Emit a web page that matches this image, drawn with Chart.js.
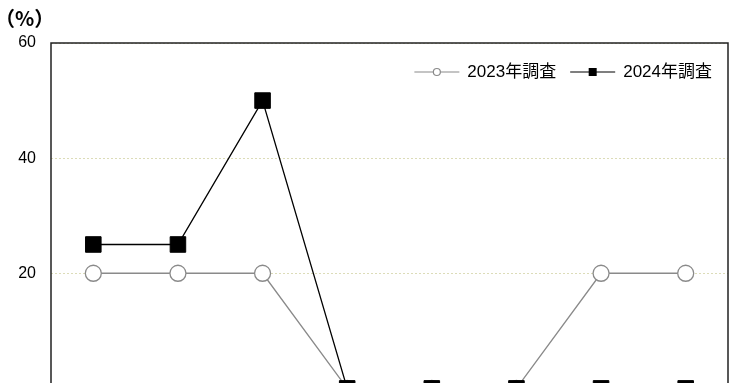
<!DOCTYPE html>
<html lang="ja">
<head>
<meta charset="utf-8">
<script src="https://cdn.jsdelivr.net/npm/chart.js@4.4.1/dist/chart.umd.min.js"></script>
<style>
  html, body { margin: 0; padding: 0; background: #fff; overflow: hidden; width: 731px; height: 383px; }
  #wrap { width: 731px; height: 413px; }
</style>
</head>
<body>
<div id="wrap"><canvas id="grafico" width="731" height="413"></canvas></div>
<script>
// -------------------- DADOS --------------------
const categorias = ['項目1', '項目2', '項目3', '項目4', '項目5', '項目6', '項目7', '項目8'];
const valores2023 = [20, 20, 20, 0, 0, 0, 20, 20];
const valores2024 = [25, 25, 50, 0, 0, 0, 0, 0];
const rotulos = ['2023年調査', '2024年調査'];
const eixoY = { min: 0, max: 60, passo: 20 };
const unidade = '（%）';

const FONTE = '"Liberation Sans", "Noto Sans CJK JP", sans-serif';

// -------------------- PLUGIN: moldura, unidade e legenda --------------------
const molduraPlugin = {
  id: 'moldura',
  afterDraw(chart) {
    const { ctx, chartArea: a } = chart;
    ctx.save();
    ctx.strokeStyle = '#222';
    ctx.lineWidth = 1.5;
    ctx.beginPath();
    ctx.moveTo(a.left, a.bottom + 5);
    ctx.lineTo(a.left, a.top);
    ctx.lineTo(a.right, a.top);
    ctx.lineTo(a.right, a.bottom + 5);
    ctx.stroke();

    // unidade
    ctx.fillStyle = '#000';
    ctx.font = 'bold 20px "Noto Sans CJK JP", sans-serif';
    ctx.textBaseline = 'middle';
    ctx.textAlign = 'left';
    ctx.fillText(unidade, -5, 18);

    // legenda (linha + marcador + texto), alinhada à direita
    ctx.font = '17px ' + FONTE;
    const y = 72;
    let x = a.right - 16;
    const itens = chart.data.datasets.map((ds, i) => ({ ds, texto: rotulos[i] }));
    for (let i = itens.length - 1; i >= 0; i--) {
      const { ds, texto } = itens[i];
      const w = ctx.measureText(texto).width;
      const xt = x - w;
      ctx.fillStyle = '#000';
      ctx.fillText(texto, xt, y);
      const x2 = xt - 8, x1 = x2 - 45, xm = (x1 + x2) / 2;
      ctx.strokeStyle = ds.borderColor;
      ctx.lineWidth = 1.2;
      ctx.beginPath();
      ctx.moveTo(x1, y);
      ctx.lineTo(x2, y);
      ctx.stroke();
      if (ds.pointStyle === 'rect') {
        ctx.fillStyle = ds.pointBackgroundColor;
        ctx.fillRect(xm - 4, y - 4, 8, 8);
      } else {
        ctx.fillStyle = '#fff';
        ctx.strokeStyle = ds.pointBorderColor;
        ctx.beginPath();
        ctx.arc(xm, y, 3.5, 0, Math.PI * 2);
        ctx.fill();
        ctx.stroke();
      }
      x = x1 - 14;
    }
    ctx.restore();
  }
};

// -------------------- GRÁFICO --------------------
const ctx = document.getElementById('grafico').getContext('2d');
new Chart(ctx, {
  type: 'line',
  data: {
    labels: categorias,
    datasets: [
      {
        label: rotulos[0],
        data: valores2023,
        borderColor: '#8a8a8a',
        borderWidth: 1.3,
        pointStyle: 'circle',
        pointRadius: 8,
        pointBackgroundColor: '#fff',
        pointBorderColor: '#8a8a8a',
        pointBorderWidth: 1.3,
        tension: 0,
        clip: false,
        order: 2
      },
      {
        label: rotulos[1],
        data: valores2024,
        borderColor: '#000',
        borderWidth: 1.3,
        pointStyle: 'rect',
        pointRadius: 11,
        pointBackgroundColor: '#000',
        pointBorderColor: '#000',
        pointBorderWidth: 1,
        tension: 0,
        clip: false,
        order: 1
      }
    ]
  },
  options: {
    responsive: false,
    animation: false,
    layout: { autoPadding: false, padding: { left: 0, right: 3, top: 43, bottom: 12 } },
    plugins: {
      legend: { display: false },
      tooltip: { enabled: false }
    },
    scales: {
      x: {
        display: false,
        offset: true
      },
      y: {
        min: eixoY.min,
        max: eixoY.max,
        afterFit(scale) { scale.width = 51; },
        border: { display: false, dash: [2, 2] },
        grid: { color: '#dcdcb8', drawTicks: false, lineWidth: 1 },
        ticks: {
          stepSize: eixoY.passo,
          padding: 15,
          color: '#000',
          font: { size: 16, family: FONTE },
          callback: v => (v === 0 ? '' : v)
        }
      }
    }
  },
  plugins: [molduraPlugin]
});
</script>
</body>
</html>
